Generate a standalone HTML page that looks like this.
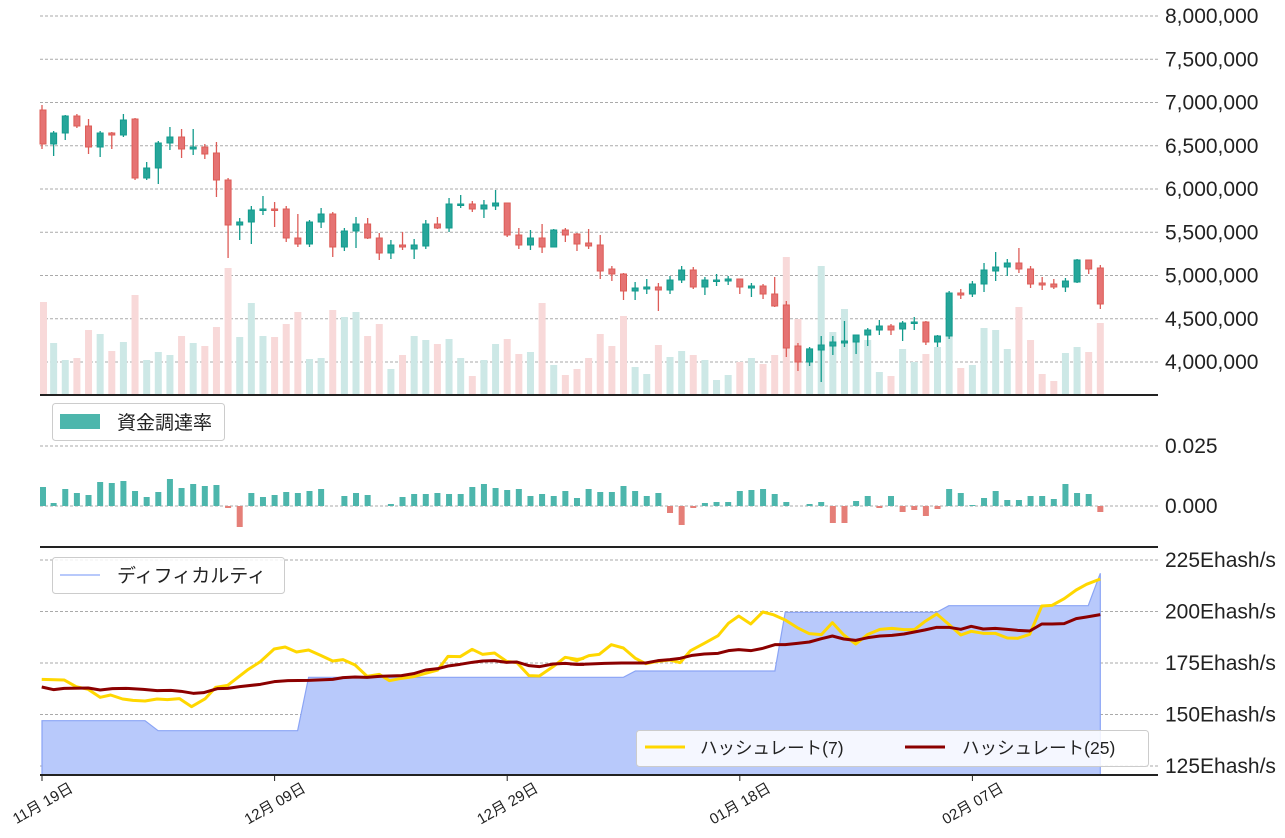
<!DOCTYPE html>
<html><head><meta charset="utf-8">
<style>
html,body{margin:0;padding:0;background:#fff;}
svg{display:block;font-family:"Liberation Sans","Noto Sans CJK JP",sans-serif;}
</style></head>
<body>
<svg id="s" width="1285" height="838" xmlns="http://www.w3.org/2000/svg">
<g id="grid" stroke="#aaa" stroke-width="1" stroke-dasharray="3,2"></g>
<g id="vol"></g>
<g id="candles"></g>
<g id="fund"></g>
<polygon id="diff" fill="#b8c9fb" stroke="#8aa4f5" stroke-width="1.2"></polygon>
<g fill="none" stroke-linejoin="round">
<polyline id="y1" transform="translate(40,590) scale(0.34435,0.33333)" stroke="#ffd700" stroke-width="3" vector-effect="non-scaling-stroke"/>
<polyline id="y2" transform="translate(570,560) scale(0.34435,0.33333)" stroke="#ffd700" stroke-width="3" vector-effect="non-scaling-stroke"/>
<polyline id="r1" transform="translate(40,590) scale(0.34435,0.33333)" stroke="#8b0000" stroke-width="3" vector-effect="non-scaling-stroke"/>
<polyline id="r2" transform="translate(570,560) scale(0.34435,0.33333)" stroke="#8b0000" stroke-width="3" vector-effect="non-scaling-stroke"/>
</g>
<g stroke="#222" stroke-width="2">
<line x1="40" y1="395" x2="1158" y2="395"/>
<line x1="40" y1="547" x2="1158" y2="547"/>
<line x1="40" y1="775" x2="1158" y2="775"/>
</g>
<g id="labels" font-size="21" fill="#222"></g>
<g id="xl" font-size="15" fill="#222"></g>
<!-- legends -->
<rect x="52.5" y="403.5" width="172" height="37" rx="3" fill="#fff" stroke="#ccc"/>
<rect x="60" y="414" width="40" height="15" fill="#4db6ac"/>
<text x="117" y="429" font-size="19" fill="#222">資金調達率</text>
<rect x="52.5" y="557.5" width="232" height="36" rx="3" fill="#fff" fill-opacity="0.85" stroke="#ccc"/>
<line x1="60" y1="575" x2="100" y2="575" stroke="#b8c9fb" stroke-width="2"/>
<text x="117" y="582" font-size="19" fill="#222">ディフィカルティ</text>
<rect x="636.5" y="730.5" width="512" height="36" rx="3" fill="#fff" fill-opacity="0.85" stroke="#ccc"/>
<line x1="645" y1="747" x2="685" y2="747" stroke="#ffd700" stroke-width="3"/>
<text x="700" y="754" font-size="17.5" fill="#222">ハッシュレート(7)</text>
<line x1="905" y1="747" x2="945" y2="747" stroke="#8b0000" stroke-width="3"/>
<text x="962" y="754" font-size="17.5" fill="#222">ハッシュレート(25)</text>
</svg>
<script>
const NS="http://www.w3.org/2000/svg";
function el(p,t,a,txt){const e=document.createElementNS(NS,t);for(const k in a)e.setAttribute(k,a[k]);if(txt!==undefined)e.textContent=txt;document.getElementById(p).appendChild(e);return e;}
const X=i=>42+i*11.63;
for(let k=0;k<=8;k++){const y=16+k*43.25;el('grid','line',{x1:40,y1:y,x2:1158,y2:y});
 el('labels','text',{x:1165,y:y+7},(8000000-k*500000).toLocaleString('en-US'));}
[446,506].forEach((y,i)=>{el('grid','line',{x1:40,y1:y,x2:1158,y2:y});el('labels','text',{x:1165,y:y+7},i?'0.000':'0.025');});
[225,200,175,150,125].forEach((v,i)=>{const y=560+i*51.5;el('grid','line',{x1:40,y1:y,x2:1158,y2:y});el('labels','text',{x:1165,y:y+7},v+'Ehash/s');});
const vol=[[0,302],[1,343],[1,360],[0,358],[0,330],[1,334],[0,351],[1,342],[0,295],[1,360],[1,352],[1,355],[0,336],[1,343],[0,346],[0,327],[0,268],[1,337],[1,303],[1,336],[0,337],[0,324],[0,312],[1,359],[1,358],[0,310],[1,317],[1,312],[0,336],[0,324],[1,369],[0,355],[1,336],[1,340],[0,344],[1,339],[1,358],[0,376],[1,360],[1,344],[0,339],[0,354],[1,352],[0,303],[1,365],[0,375],[0,369],[0,358],[0,334],[0,346],[0,316],[1,367],[1,374],[0,345],[1,357],[1,351],[0,355],[1,360],[1,380],[1,375],[0,362],[1,358],[0,364],[0,355],[0,257],[0,319],[1,348],[1,266],[1,332],[1,309],[1,340],[1,340],[1,372],[0,376],[1,349],[1,362],[0,354],[1,347],[1,306],[0,368],[1,365],[1,328],[1,330],[1,349],[0,307],[0,340],[0,374],[0,381],[1,353],[1,347],[0,352],[0,323]];
vol.forEach((v,i)=>el('vol','rect',{x:Math.max(40,X(i)-3.5),y:v[1],width:7,height:395-v[1],fill:v[0]?'#cde8e6':'#f8d9d9'}));
const C=`0 110 144 105 149;1 133 144 131 156;1 116 133 115 140;0 116 126 114 128;0 126 147 119 154;1 133 147 131 157;0 133 135 132 149;1 120 135 114 137;0 119 178 118 180;1 168 178 162 180;1 143 168 141 184;1 137 143 127 150;0 137 149 129 158;1 147 149 129 155;0 147 154 144 159;0 153 180 142 197;0 180 225 178 258;1 222 225 218 240;1 210 222 206 244;1 209 210 196 215;0 209 210 202 227;0 209 238 206 242;0 238 244 214 247;1 222 244 220 247;1 214 222 208 228;0 214 247 212 257;1 231 247 228 251;1 224 231 217 248;0 224 238 218 239;0 238 253 233 260;1 245 253 240 259;0 245 247 232 250;1 245 249 239 259;1 224 246 220 249;0 224 228 217 229;1 204 228 198 232;1 204 205 195 208;0 204 209 201 212;1 205 209 200 218;1 203 206 190 210;0 203 235 203 237;0 235 245 228 249;1 238 245 230 250;0 238 247 224 253;1 230 247 229 247;0 230 235 228 242;0 234 244 233 251;0 243 246 229 249;0 245 271 235 279;0 269 274 266 281;0 274 291 273 300;1 288 291 282 300;1 287 289 279 294;0 287 290 283 311;1 280 290 276 294;1 270 280 266 283;0 270 287 267 289;1 280 287 277 295;1 280 281 274 286;1 279 281 276 285;0 279 287 279 294;1 286 288 283 297;0 286 294 284 299;0 294 306 277 307;0 305 348 301 357;0 346 362 343 371;1 349 362 347 366;1 345 350 336 382;1 342 346 336 355;1 341 343 321 347;1 335 342 335 354;1 330 335 328 346;1 326 330 320 335;0 326 330 324 335;1 323 329 321 341;1 322 323 317 330;0 322 342 321 345;1 336 342 335 347;1 293 336 291 339;0 293 295 289 299;1 284 294 281 297;1 270 284 263 292;1 267 271 252 281;1 263 267 259 276;0 263 269 248 273;0 269 284 266 288;0 283 285 277 290;0 284 287 279 289;1 281 287 278 292;1 260 282 259 283;0 260 269 260 274;0 268 304 265 309`.split(';').map(s=>s.trim().split(' ').map(Number));
C.forEach((c,i)=>{const x=X(i);const fc=c[0]?'#26a69a':'#e57373',sc=c[0]?'#139b8d':'#dd5c57';
 el('candles','line',{x1:x,y1:c[3],x2:x,y2:c[4],stroke:sc,'stroke-width':1.3});
 el('candles','rect',{x:Math.max(40,x-3),y:c[1],width:6,height:Math.max(1.5,c[2]-c[1]),fill:fc,stroke:sc,'stroke-width':1});});
const F=[19,3,17,13,11,24,23,25,15,9,14,27,18,22,20,21,-2,-21,13,9,11,14,13,15,17,0,10,13,11,0,2,9,12,12,13,12,12,19,22,18,16,17,10,12,10,15,8,17,14,14,20,15,10,13,-7,-19,-2,3,4,4,15,16,17,12,4,0,2,4,-17,-17,5,10,-2,10,-6,-4,-10,-3,17,13,1,8,15,6,6,10,10,7,22,13,12,-6];
F.forEach((h,i)=>{if(!h)return;el('fund','rect',{x:Math.max(40,X(i)-3),y:h>0?506-h:506,width:6,height:Math.abs(h),fill:h>0?'#4db6ac':'#e57f78'});});
document.getElementById('diff').setAttribute('points','42,775 42,720.7 145,720.7 158.1,730.7 297.6,730.7 308.6,677.3 623.4,677.3 635.4,671 774.9,671 785.2,612.3 936.7,612.3 948.8,605.7 1088.2,605.7 1100.3,573.3 1100.3,775');
document.getElementById('y1').setAttribute('points','5,268 70,270 105,290 140,298 175,322 205,315 240,327 270,331 305,333 340,327 370,329 405,326 440,350 480,326 510,292 545,286 575,262 605,238 640,215 680,177 712,171 745,186 780,180 815,196 850,213 880,209 915,225 950,259 985,253 1015,272 1050,265 1085,260 1120,250 1155,240 1185,199 1220,200 1255,178 1285,193 1320,189 1355,214 1385,218 1420,257 1450,258 1490,230 1525,202 1560,208 1580,205');
document.getElementById('y2').setAttribute('points','0,296 20,302 55,287 85,283 120,254 155,264 190,295 220,311 255,304 290,300 320,308 350,272 390,250 430,227 460,190 490,168 525,192 560,156 590,164 625,180 660,203 695,221 730,224 762,188 795,225 830,252 865,223 900,208 935,205 970,209 1000,209 1030,185 1065,162 1100,193 1135,225 1165,214 1200,220 1235,220 1270,234 1300,235 1335,223 1370,138 1400,136 1435,116 1470,90 1500,73 1540,57');
document.getElementById('r1').setAttribute('points','5,291 40,299 70,295 140,294 175,300 210,296 250,295 300,298 340,302 380,301 410,304 445,310 475,308 515,296 545,295 580,290 640,283 680,275 720,272 780,271 850,268 880,263 915,261 950,262 985,259 1050,257 1085,251 1120,240 1155,236 1185,228 1220,223 1255,217 1285,213 1320,212 1355,217 1385,216 1420,227 1450,230 1490,222 1525,220 1560,223 1580,223');
document.getElementById('r2').setAttribute('points','0,312 30,313 100,310 150,309 220,309 255,302 290,299 320,295 355,286 390,282 430,280 460,272 490,269 525,272 560,265 595,254 625,254 660,250 695,246 730,236 762,228 795,237 830,241 865,233 900,228 935,226 970,222 1000,216 1030,210 1065,202 1100,202 1135,208 1165,199 1200,207 1235,205 1270,208 1300,211 1335,213 1370,192 1400,192 1435,191 1470,176 1500,171 1540,164');
[['11月 19日',0],['12月 09日',20],['12月 29日',40],['01月 18日',60],['02月 07日',80]].forEach(([t,i])=>{const x=X(i);
 el('xl','line',{x1:x,y1:776,x2:x,y2:781,stroke:'#222','stroke-width':1});
 el('xl','text',{x:x+32,y:791,'text-anchor':'end',transform:`rotate(-30 ${x+32} 791)`},t);});
</script>
</body></html>
